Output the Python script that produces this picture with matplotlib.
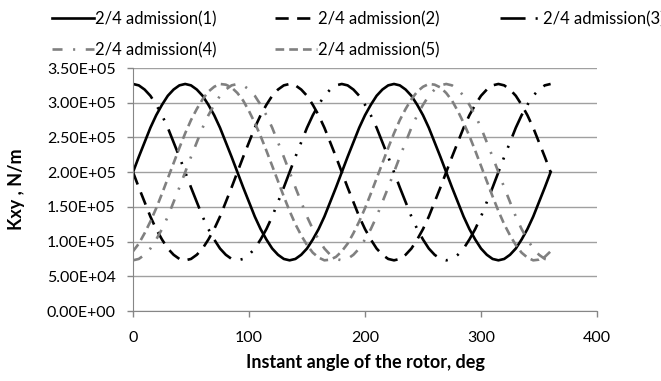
import numpy as np
import matplotlib
matplotlib.use('Agg')
import matplotlib.pyplot as plt
from matplotlib.ticker import FuncFormatter

plt.rcParams['font.family'] = ['Lato', 'DejaVu Sans']

# rotor angle, deg (5 deg steps)
angle = np.arange(0, 361, 5)

# Kxy values, kN/m
adm1 = [200, 222, 243, 264, 282, 297, 310, 319, 325, 327, 325, 319, 310, 297, 282, 264, 243, 222,
        200, 178, 157, 136, 118, 103, 90, 81, 75, 73, 75, 81, 90, 103, 118, 136, 157, 178,
        200, 222, 243, 264, 282, 297, 310, 319, 325, 327, 325, 319, 310, 297, 282, 264, 243, 222,
        200, 178, 157, 136, 118, 103, 90, 81, 75, 73, 75, 81, 90, 103, 118, 136, 157, 178, 200]
adm2 = [200, 178, 157, 136, 118, 103, 90, 81, 75, 73, 75, 81, 90, 103, 118, 136, 157, 178,
        200, 222, 243, 264, 282, 297, 310, 319, 325, 327, 325, 319, 310, 297, 282, 264, 243, 222,
        200, 178, 157, 136, 118, 103, 90, 81, 75, 73, 75, 81, 90, 103, 118, 136, 157, 178,
        200, 222, 243, 264, 282, 297, 310, 319, 325, 327, 325, 319, 310, 297, 282, 264, 243, 222, 200]
adm3 = [327, 325, 319, 310, 297, 282, 264, 243, 222, 200, 178, 157, 136, 118, 103, 90, 81, 75,
        73, 75, 81, 90, 103, 118, 136, 157, 178, 200, 222, 243, 264, 282, 297, 310, 319, 325,
        327, 325, 319, 310, 297, 282, 264, 243, 222, 200, 178, 157, 136, 118, 103, 90, 81, 75,
        73, 75, 81, 90, 103, 118, 136, 157, 178, 200, 222, 243, 264, 282, 297, 310, 319, 325, 327]
adm4 = [73, 75, 81, 90, 103, 118, 136, 157, 178, 200, 222, 243, 264, 282, 297, 310, 319, 325,
        327, 325, 319, 310, 297, 282, 264, 243, 222, 200, 178, 157, 136, 118, 103, 90, 81, 75,
        73, 75, 81, 90, 103, 118, 136, 157, 178, 200, 222, 243, 264, 282, 297, 310, 319, 325,
        327, 325, 319, 310, 297, 282, 264, 243, 222, 200, 178, 157, 136, 118, 103, 90, 81, 75, 73]
adm5 = [86, 97, 112, 129, 148, 169, 191, 213, 235, 256, 275, 291, 305, 316, 323, 327, 326, 322,
        314, 303, 288, 271, 252, 231, 209, 187, 165, 144, 125, 109, 95, 84, 77, 73, 74, 78,
        86, 97, 112, 129, 148, 169, 191, 213, 235, 256, 275, 291, 305, 316, 323, 327, 326, 322,
        314, 303, 288, 271, 252, 231, 209, 187, 165, 144, 125, 109, 95, 84, 77, 73, 74, 78, 86]

labels = ['2/4 admission(1)', '2/4 admission(2)', '2/4 admission(3)',
          '2/4 admission(4)', '2/4 admission(5)']

fig = plt.figure(figsize=(6.61, 3.81), dpi=100)
ax = fig.add_axes([0.2012, 0.1837, 0.702, 0.6378])

lw = 1.9
black = '#000000'
grey = '#808080'
l1, = ax.plot(angle, np.array(adm1) * 1e3, color=black, lw=lw)
l2, = ax.plot(angle, np.array(adm2) * 1e3, color=black, lw=lw, linestyle=(0, (5, 3.2)))
l3, = ax.plot(angle, np.array(adm3) * 1e3, color=black, lw=lw,
              linestyle=(0, (9.5, 3.8, 0.8, 4, 0.8, 3.8)))
l4, = ax.plot(angle, np.array(adm4) * 1e3, color=grey, lw=lw, linestyle=(0, (3.8, 4, 0.8, 4)))
l5, = ax.plot(angle, np.array(adm5) * 1e3, color=grey, lw=lw, linestyle=(0, (3.3, 1.9)))

ax.set_xlim(0, 400)
ax.set_ylim(0, 3.5e5)
ax.set_xticks([0, 100, 200, 300, 400])
ax.set_yticks(np.arange(0, 3.51e5, 5e4))
ax.yaxis.set_major_formatter(FuncFormatter(lambda v, p: '%.2E' % v))
ax.grid(axis='y', color='#a0a0a0', lw=1)
ax.set_axisbelow(True)

ax.spines['top'].set_visible(False)
ax.spines['right'].set_visible(False)
ax.spines['left'].set_color('#868686')
ax.spines['bottom'].set_color('#868686')
ax.tick_params(axis='both', colors='#868686', labelcolor='#000000', labelsize=11.5, length=4.5, width=1)
ax.tick_params(axis='x', pad=10)
ax.tick_params(axis='y', pad=8)

ax.set_xlabel('Instant angle of the rotor, deg', fontsize=13, fontweight='bold')
ax.set_ylabel('Kxy , N/m', fontsize=13, fontweight='bold')
ax.xaxis.set_label_coords(0.5, -0.175)
ax.yaxis.set_label_coords(-0.233, 0.5)

# legend: one entry each, placed like the original two-row layout
spots = [(l1, 0, 0.0787, 0.950), (l2, 1, 0.416, 0.950), (l3, 2, 0.756, 0.950),
         (l4, 3, 0.0787, 0.869), (l5, 4, 0.416, 0.869)]
for h, i, x, y in spots:
    fig.legend(handles=[h], labels=[labels[i]], loc='center left', bbox_to_anchor=(x, y),
               bbox_transform=fig.transFigure, frameon=False, borderpad=0, borderaxespad=0,
               handlelength=2.5, handletextpad=0.1, fontsize=12)

fig.savefig('out.png', dpi=100)
